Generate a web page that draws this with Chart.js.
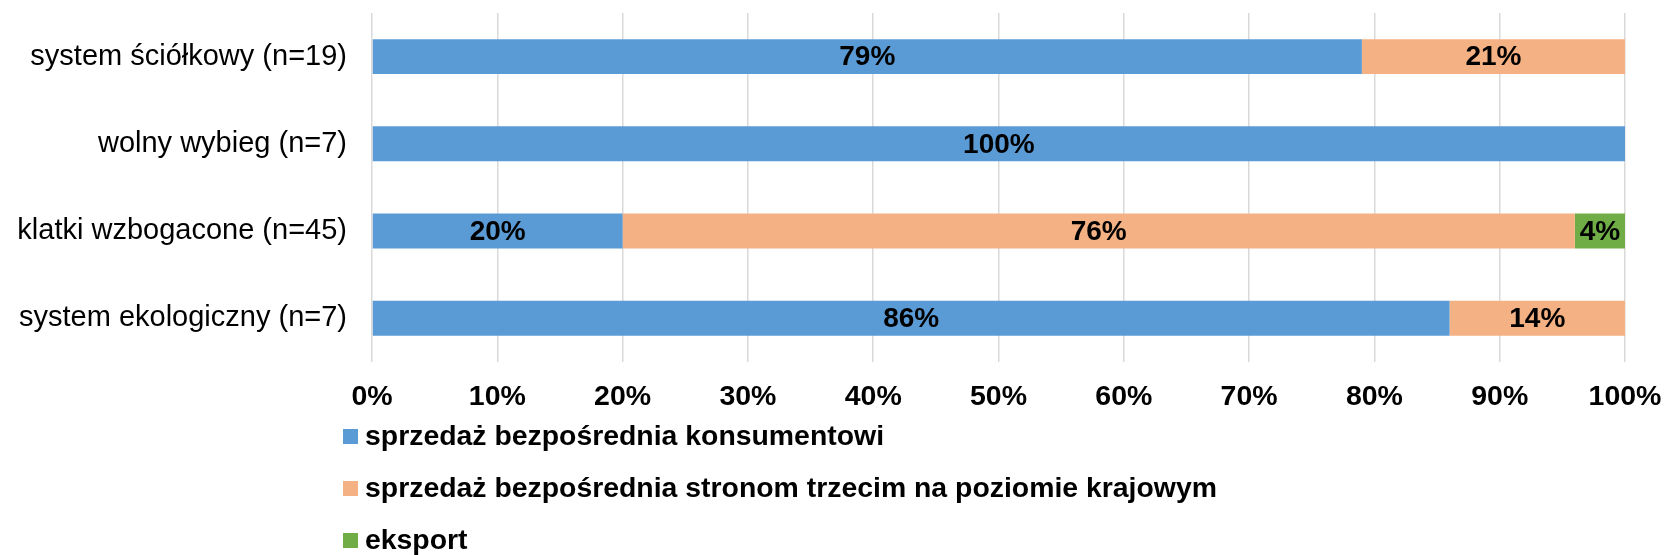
<!DOCTYPE html>
<html>
<head>
<meta charset="utf-8">
<script src="https://cdn.jsdelivr.net/npm/chart.js@4/dist/chart.umd.min.js"></script>
<style>
  html, body { margin: 0; padding: 0; background: #ffffff; }
  #wrap { width: 1665px; height: 555px; position: relative; }
</style>
</head>
<body>
<div id="wrap"><canvas id="c" width="1665" height="555"></canvas></div>
<script>
const categories = ['system ściółkowy (n=19)', 'wolny wybieg (n=7)', 'klatki wzbogacone (n=45)', 'system ekologiczny (n=7)'];
const seriesNames = ['sprzedaż bezpośrednia konsumentowi', 'sprzedaż bezpośrednia stronom trzecim na poziomie krajowym', 'eksport'];
const directToConsumer = [79, 100, 20, 86];
const domesticThirdParty = [21, 0, 76, 14];
const exportShare = [0, 0, 4, 0];
const tickValues = [0, 10, 20, 30, 40, 50, 60, 70, 80, 90, 100];
const seriesColors = ['#5B9BD5', '#F4B183', '#70AD47'];

const FONT = "'Liberation Sans', Arial, sans-serif";

const valueLabels = {
  id: 'valueLabels',
  afterDatasetsDraw(chart) {
    const ctx = chart.ctx;
    ctx.save();
    ctx.font = 'bold 28px ' + FONT;
    ctx.fillStyle = '#000000';
    ctx.textAlign = 'center';
    ctx.textBaseline = 'middle';
    chart.data.datasets.forEach((ds, di) => {
      const meta = chart.getDatasetMeta(di);
      meta.data.forEach((bar, i) => {
        const v = ds.data[i];
        if (!v) return;
        const cx = (bar.x + bar.base) / 2;
        ctx.fillText(v + '%', cx, bar.y + 1);
      });
    });
    ctx.restore();
  }
};

const stackedLegend = {
  id: 'stackedLegend',
  afterDraw(chart) {
    const ctx = chart.ctx;
    const left = chart.chartArea.left - 29;
    const firstY = 436.5;
    const rowGap = 52;
    ctx.save();
    ctx.font = 'bold 28.4px ' + FONT;
    ctx.textBaseline = 'middle';
    ctx.textAlign = 'left';
    chart.data.datasets.forEach((ds, i) => {
      const y = firstY + i * rowGap;
      ctx.fillStyle = ds.backgroundColor;
      ctx.fillRect(left, y - 7.5, 15, 15);
      ctx.fillStyle = '#000000';
      ctx.fillText(ds.label, left + 22, y + 1);
    });
    ctx.restore();
  }
};

new Chart(document.getElementById('c'), {
  type: 'bar',
  data: {
    labels: categories,
    datasets: [
      { label: seriesNames[0], data: directToConsumer, backgroundColor: seriesColors[0] },
      { label: seriesNames[1], data: domesticThirdParty, backgroundColor: seriesColors[1] },
      { label: seriesNames[2], data: exportShare, backgroundColor: seriesColors[2] }
    ]
  },
  options: {
    indexAxis: 'y',
    responsive: false,
    animation: false,
    devicePixelRatio: 1,
    layout: { padding: { top: 13, right: 40, left: 0, bottom: 123 } },
    datasets: { bar: { barPercentage: 0.5, categoryPercentage: 0.8, borderWidth: 0 } },
    plugins: { legend: { display: false }, tooltip: { enabled: false } },
    scales: {
      x: {
        stacked: true,
        min: 0,
        max: 100,
        afterBuildTicks(scale) { scale.ticks = tickValues.map(v => ({ value: v })); },
        afterFit(scale) { scale.paddingLeft = 0; scale.paddingRight = 0; },
        grid: { color: '#D9D9D9', lineWidth: 1.5, drawTicks: false },
        border: { display: false },
        ticks: {
          padding: 18,
          color: '#000000',
          font: { family: FONT, size: 28.5, weight: 'bold' },
          callback: v => v + '%'
        }
      },
      y: {
        stacked: true,
        grid: { display: false, drawTicks: false },
        border: { display: false },
        afterFit(scale) { scale.width = 372; scale.paddingTop = 0; scale.paddingBottom = 0; },
        ticks: {
          padding: 25,
          color: '#000000',
          font: { family: FONT, size: 29 }
        }
      }
    }
  },
  plugins: [valueLabels, stackedLegend]
});
</script>
</body>
</html>
